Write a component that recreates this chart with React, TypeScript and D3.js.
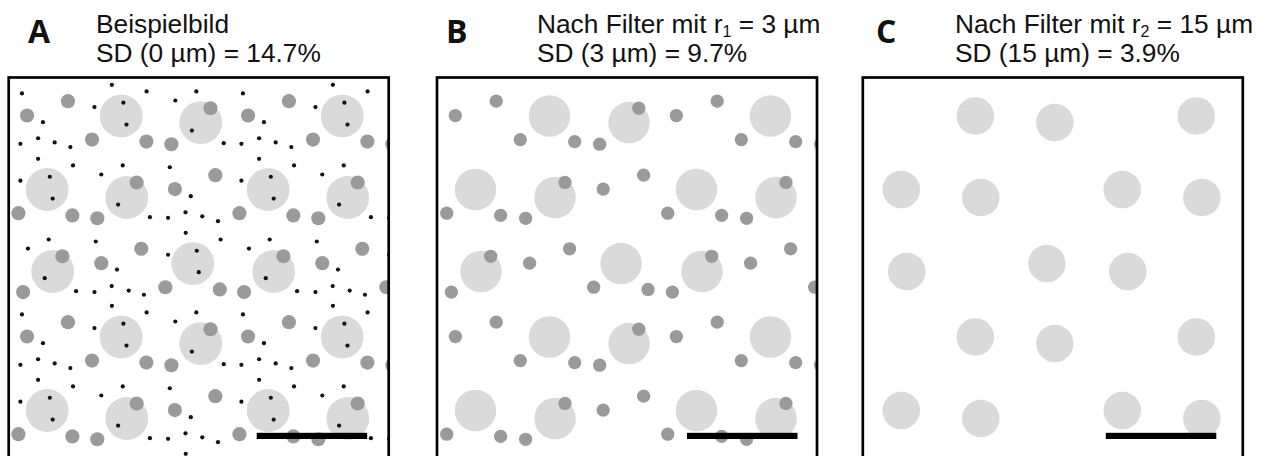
import React from 'react';
import * as d3 from 'd3';

// ---- data (µm, one periodic 100 µm x 100 µm tile of the test pattern) ----
const TILE_UM = 100;
const SCALE_BAR_UM = 50;

const bigCircles: [number, number][] = [
  [50.9, 17.4], [86.9, 20.4], [17.4, 50.7], [53.4, 54.3], [83.3, 84.2], [19.9, 87.8],
];

const mediumCircles: [number, number][] = [
  [26.8, 10.7], [8.3, 17.2], [37.7, 28.1], [62.3, 29.0], [73.6, 30.2], [57.9, 47.5],
  [75.2, 50.5], [93.5, 44.2], [4.4, 61.4], [28.8, 62.4], [40.1, 63.7], [60.0, 77.5],
  [24.3, 80.9], [41.9, 84.0], [91.3, 13.9], [6.5, 97.1], [70.9, 94.9], [95.5, 95.9],
];

const smallDots: [number, number][] = [
  [6.0, 7.2], [46.7, 3.3], [62.4, 6.3], [75.4, 10.4], [84.9, 6.3], [38.8, 13.4],
  [51.9, 11.4], [53.3, 21.3], [15.5, 20.2], [82.9, 24.0], [5.3, 30.0], [13.3, 27.5],
  [20.8, 29.4], [27.9, 31.5], [97.3, 29.7], [13.3, 36.8], [29.1, 39.8], [41.9, 43.9],
  [51.6, 39.8], [72.9, 40.6], [5.3, 46.7], [18.6, 44.9], [19.9, 54.8], [49.5, 57.5],
  [82.4, 53.7], [80.0, 61.0], [63.9, 63.2], [72.1, 63.5], [87.6, 62.8], [94.7, 65.0],
  [80.1, 70.3], [18.1, 73.3], [8.7, 77.4], [39.4, 74.2], [95.9, 73.3], [72.1, 80.2],
  [85.1, 78.4], [49.0, 86.9], [16.3, 90.8], [86.0, 88.1], [30.5, 96.7], [38.8, 97.1],
  [46.6, 94.4], [54.3, 96.4], [61.2, 98.3],
];

const panelLetters = ['A', 'B', 'C'];
const titleMain = ['Beispielbild', 'Nach Filter mit r', 'Nach Filter mit r'];
const titleSub = ['', '1', '2'];
const titleRest = ['', ' = 3 µm', ' = 15 µm'];
const sdLines = ['SD (0 µm) = 14.7%', 'SD (3 µm) = 9.7%', 'SD (15 µm) = 3.9%'];
// radii in µm per panel (null = layer removed by the filter)
const bigRadiusUm = [9.7, 9.4, 8.5];
const mediumRadiusUm: (number | null)[] = [3.2, 3.0, null];
const smallRadiusUm: (number | null)[] = [0.95, null, null];

// ---- layout ----
const W = 1266;
const H = 456;
const PX_PER_UM = 2.21;
const panelLeft = [8.7, 437, 862.8];
const panelTop = 77.5;
const panelSize = 380;
const letterX = [28, 446, 876];
const textX = [96, 537, 955];
const barStartPx = [248, 250, 243];

function tiled(points: [number, number][], r: number, fieldUm: number) {
  const out: [number, number][] = [];
  points.forEach(([x, y]) => {
    for (let i = -1; i <= 2; i++) {
      for (let j = -1; j <= 2; j++) {
        const X = x + i * TILE_UM;
        const Y = y + j * TILE_UM;
        if (X > -r && X < fieldUm + r && Y > -r && Y < fieldUm + r) out.push([X, Y]);
      }
    }
  });
  return out;
}

function Panel({ idx }: { idx: number }) {
  const left = panelLeft[idx];
  const fieldUm = panelSize / PX_PER_UM;
  const x = d3.scaleLinear().domain([0, fieldUm]).range([left, left + panelSize]);
  const y = d3.scaleLinear().domain([0, fieldUm]).range([panelTop, panelTop + panelSize]);
  const len = d3.scaleLinear().domain([0, 1]).range([0, PX_PER_UM]);
  const clipId = `clip-${idx}`;
  const bigR = bigRadiusUm[idx];
  const medR = mediumRadiusUm[idx];
  const smR = smallRadiusUm[idx];
  const barX0 = x.invert(left + barStartPx[idx]);
  return (
    <g>
      <defs>
        <clipPath id={clipId}>
          <rect x={left} y={panelTop} width={panelSize} height={panelSize} />
        </clipPath>
      </defs>
      <rect x={left} y={panelTop} width={panelSize} height={panelSize} fill="#fff" />
      <g clipPath={`url(#${clipId})`}>
        {tiled(bigCircles, bigR, fieldUm).map(([cx, cy], k) => (
          <circle key={`b${k}`} cx={x(cx)} cy={y(cy)} r={len(bigR)} fill="#dadada" />
        ))}
        {medR != null &&
          tiled(mediumCircles, medR, fieldUm).map(([cx, cy], k) => (
            <circle key={`m${k}`} cx={x(cx)} cy={y(cy)} r={len(medR)} fill="#9a9a9a" />
          ))}
        {smR != null &&
          tiled(smallDots, smR, fieldUm).map(([cx, cy], k) => (
            <circle key={`s${k}`} cx={x(cx)} cy={y(cy)} r={len(smR)} fill="#111" />
          ))}
        <rect
          x={x(barX0)}
          y={432.8}
          width={len(SCALE_BAR_UM)}
          height={6.2}
          fill="#000"
        />
      </g>
      <rect
        x={left}
        y={panelTop}
        width={panelSize}
        height={panelSize}
        fill="none"
        stroke="#000"
        strokeWidth={2.7}
      />
      <text
        x={letterX[idx]}
        y={42.5}
        fontFamily="'Open Sans', sans-serif"
        fontWeight={700}
        fontSize={32}
        fill="#111"
      >
        {panelLetters[idx]}
      </text>
      <text x={textX[idx]} y={33} fontFamily="'Liberation Sans', Arial, sans-serif" fontSize={26.3} fill="#111">
        {titleMain[idx]}
        {titleSub[idx] && (
          <tspan fontSize={16} dy={4}>
            {titleSub[idx]}
          </tspan>
        )}
        {titleRest[idx] && <tspan dy={titleSub[idx] ? -4 : 0}>{titleRest[idx]}</tspan>}
      </text>
      <text x={textX[idx]} y={61.5} fontFamily="'Liberation Sans', Arial, sans-serif" fontSize={26.3} fill="#111">
        {sdLines[idx]}
      </text>
    </g>
  );
}

export default function App() {
  return (
    <svg
      width={W}
      height={H}
      viewBox={`0 0 ${W} ${H}`}
      style={{ position: 'fixed', left: 0, top: 0, background: '#fff' }}
    >
      <rect x={0} y={0} width={W} height={H} fill="#fff" />
      {panelLetters.map((_, i) => (
        <Panel key={i} idx={i} />
      ))}
    </svg>
  );
}
